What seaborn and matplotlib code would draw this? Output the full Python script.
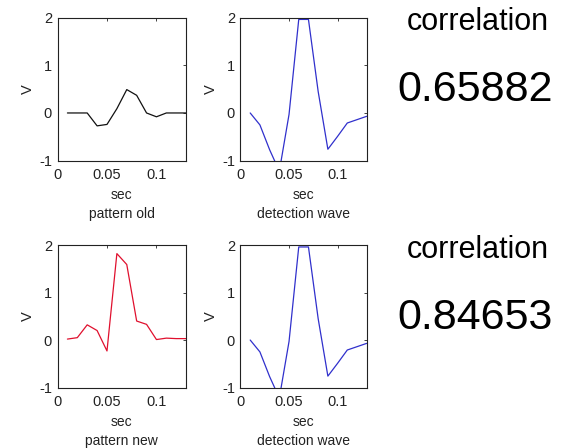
import pandas as pd
import seaborn as sns
import matplotlib.pyplot as plt

# sample times (sec) and the three signals
t = [0.01, 0.02, 0.03, 0.04, 0.05, 0.06, 0.07, 0.08, 0.09, 0.10, 0.11, 0.12, 0.13]
pattern_old = [0.0, 0.0, 0.0, -0.27, -0.24, 0.09, 0.49, 0.37, 0.0, -0.08, 0.0, 0.0, 0.0]
pattern_new = [0.02, 0.05, 0.32, 0.20, -0.23, 1.82, 1.59, 0.40, 0.33, 0.01, 0.04, 0.03, 0.03]
detection = [0.0, -0.25, -0.77, -1.22, -0.03, 1.96, 1.96, 0.45, -0.76, -0.49, -0.21, -0.14, -0.07]
corr_values = ["0.65882", "0.84653"]
xtick_vals = [0, 0.05, 0.1]
xtick_labels = ["0", "0.05", "0.1"]
ytick_vals = [-1, 0, 1, 2]

sns.set_style("white")
plt.rcParams["font.family"] = ["Liberation Sans", "DejaVu Sans"]
plt.rcParams["axes.unicode_minus"] = False

fig = plt.figure(figsize=(5.64, 4.48), dpi=100)

panels = [
    ([0.102, 0.6413, 0.228, 0.3196], pattern_old, "#111111", "pattern old"),
    ([0.4264, 0.6413, 0.2238, 0.3196], detection, "#3030cc", "detection wave"),
    ([0.102, 0.135, 0.228, 0.318], pattern_new, "#e0102e", "pattern new"),
    ([0.4264, 0.135, 0.2238, 0.318], detection, "#3030cc", "detection wave"),
]

for rect, vals, col, name in panels:
    ax = fig.add_axes(rect)
    df = pd.DataFrame({"sec": t, "V": vals})
    sns.lineplot(data=df, x="sec", y="V", ax=ax, color=col, linewidth=0.9)
    ax.set_xlim(0, 0.13)
    ax.set_ylim(-1, 2)
    ax.set_xticks(xtick_vals)
    ax.set_xticklabels(xtick_labels)
    ax.set_yticks(ytick_vals)
    ax.tick_params(direction="in", length=2.5, width=0.6, top=True, right=True,
                   labelsize=10.5, colors="#222222")
    ax.tick_params(axis="x", pad=5.5)
    ax.tick_params(axis="y", pad=4)
    for sp in ax.spines.values():
        sp.set_color("#222222")
        sp.set_linewidth(0.8)
    ax.set_xlabel("sec\n" + name, fontsize=10, color="#222222", labelpad=4, linespacing=1.45)
    ax.set_ylabel("V", fontsize=10.5, color="#222222", labelpad=3)

fig.text(0.8475, 0.952, "correlation", fontsize=22, ha="center", va="center", color="black")
fig.text(0.842, 0.80, corr_values[0], fontsize=31, ha="center", va="center", color="black")
fig.text(0.8475, 0.443, "correlation", fontsize=22, ha="center", va="center", color="black")
fig.text(0.842, 0.29, corr_values[1], fontsize=31, ha="center", va="center", color="black")

plt.savefig("out.png", dpi=100)
